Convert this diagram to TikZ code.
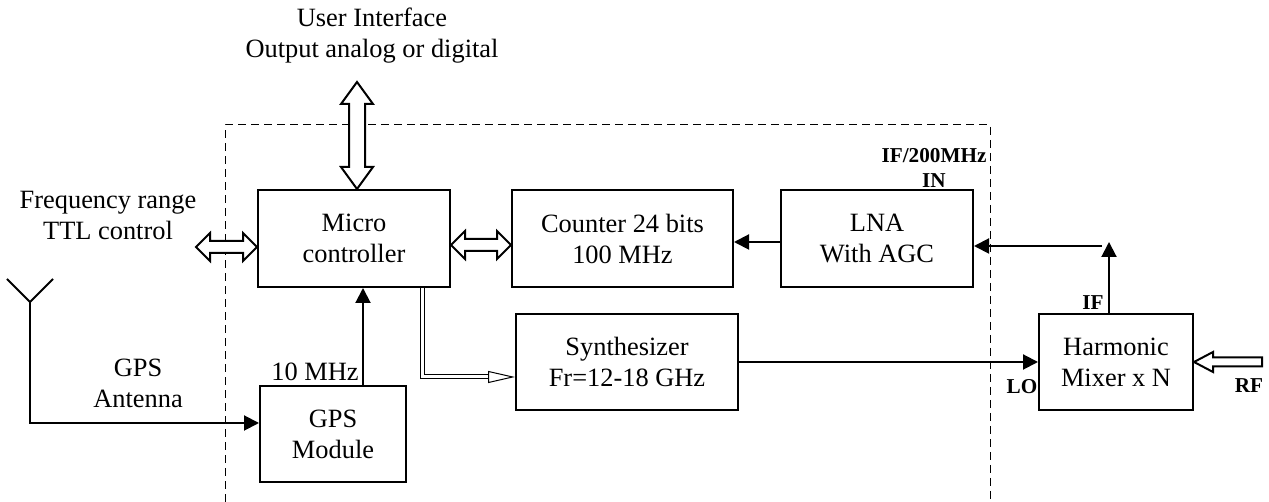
\documentclass[tikz,border=0pt]{standalone}
\usepackage{fontspec}
\setmainfont{Liberation Serif}
\usetikzlibrary{calc, positioning, arrows.meta}

% broad hollow arrows, heads at both ends
\newcommand{\hollowH}[2]{%
	\path (#1) coordinate (h1) (#2) coordinate (h2);
	\draw[hollow] (h1) -- ++(7pt,7pt) -- ++(0,-4pt) -- ($(h2)+(-7pt,3pt)$) -- ++(0,4pt) -- (h2) -- ++(-7pt,-7pt) -- ++(0,4pt) -- ($(h1)+(7pt,-3pt)$) -- ++(0,-4pt) -- cycle;}
\newcommand{\hollowV}[2]{%
	\path (#1) coordinate (h1) (#2) coordinate (h2);
	\draw[hollow] (h1) -- ++(-8pt,11pt) -- ++(4pt,0) -- ($(h2)+(-4pt,-11pt)$) -- ++(-4pt,0) -- (h2) -- ++(8pt,-11pt) -- ++(-4pt,0) -- ($(h1)+(4pt,11pt)$) -- ++(4pt,0) -- cycle;}

\begin{document}
\begin{tikzpicture}[x=0.5pt, y=0.5pt, every node/.style={font=\fontsize{13.2}{15.5}\selectfont}]
	\tikzstyle{block}=[draw=black, line width=1pt, minimum height=48pt, align=center, inner sep=0pt]
	\tikzstyle{sig}=[line width=1pt, -{Triangle[length=7.5pt, width=7.5pt]}]
	\tikzstyle{hollow}=[draw=black, line width=1pt, fill=white, line join=miter]
	\tikzstyle{tag}=[font=\fontsize{10.6}{12.5}\selectfont\bfseries, align=center, inner sep=0pt]
	\tikzstyle{frame}=[line width=0.5pt, dash pattern=on 4pt off 2.5pt]
	
	\useasboundingbox (0,0) rectangle (1269,502);
	
	\draw[frame] (225,0) -- (225,377) -- (990,377) -- (990,0);
	
	\node (micro) at (354,263.5) [block, minimum width=96pt, minimum height=48.5pt] {Micro\\controller};
	\node (counter) at (622.5,263.5) [block, minimum width=110.5pt, minimum height=48.5pt] {Counter 24 bits\\100 MHz};
	\node (lna) at (877,263.5) [block, minimum width=96pt, minimum height=48.5pt] {LNA\\With AGC};
	\node (synth) at (627,140) [block, minimum width=111pt] {Synthesizer\\Fr=12-18 GHz};
	\node (gps) at (333,68) [block, minimum width=73pt] {GPS\\Module};
	\node (mixer) at (1116,140) [block, minimum width=77pt] {Harmonic\\Mixer x N};
	
	\node (ui) at (372,466) [align=center] {User Interface\\Output analog or digital};
	\node (freq) at (108,287) [align=center] {Frequency range\\TTL control};
	\node (gpsant) at (138,119) [align=center] {GPS\\Antenna};
	\node (ifin) at (934,334) [tag] {IF/200MHz\\IN};
	\node (iflbl) at (1093,199) [tag] {IF};
	\node (lolbl) at (1022,115) [tag] {LO};
	\node (rflbl) at (1249,116) [tag] {RF};
	
	\hollowV{[xshift=1.5pt]micro.north}{[xshift=1.5pt,yshift=53.5pt]micro.north}
	\hollowH{[xshift=-30.5pt,yshift=-4.25pt]micro.west}{[yshift=-4.25pt]micro.west}
	\hollowH{[yshift=-3.25pt]micro.east}{[yshift=-3.25pt]counter.west}
	
	\draw[sig] ([yshift=-1.75pt]lna.west) -- ([yshift=-1.75pt]counter.east);
	\coordinate (ifrow) at (1102,256);
	\draw[sig] ([xshift=-3.5pt]mixer.north) -- ++(0,71);
	\draw[sig] (ifrow) -- (ifrow -| lna.east);
	\draw[sig] (synth.east) -- (mixer.west);
	
	% RF input
	\coordinate (rfin) at (1262,140);
	\draw[hollow] (mixer.east) -- ++(9.5pt,5pt) -- ++(0,-2.75pt) -- ($(rfin)+(0,2.25pt)$) -- ++(0,-4.5pt) -- ($(mixer.east)+(9.5pt,-2.25pt)$) -- ++(0,-2.75pt) -- cycle;
	
	% antenna
	\coordinate (ant) at (30,200);
	\draw[line width=1pt] ($(ant)+(-23,23)$) -- (ant) -- ($(ant)+(23,23)$);
	\draw[sig] (ant) |- ([yshift=5.5pt]gps.west);
	
	\coordinate (tenm) at ([xshift=15pt]gps.north);
	\draw[sig] (tenm) -- (tenm |- micro.south);
	\node (tenlbl) [above left, inner sep=2pt] at (tenm) {10 MHz};
	
	\draw[line width=0.5pt, double distance=1.5pt, -{Triangle[open, length=13.5pt, width=6pt]}] ([xshift=34pt]micro.south) |- ([yshift=-7.5pt]synth.west);
\end{tikzpicture}
\end{document}
